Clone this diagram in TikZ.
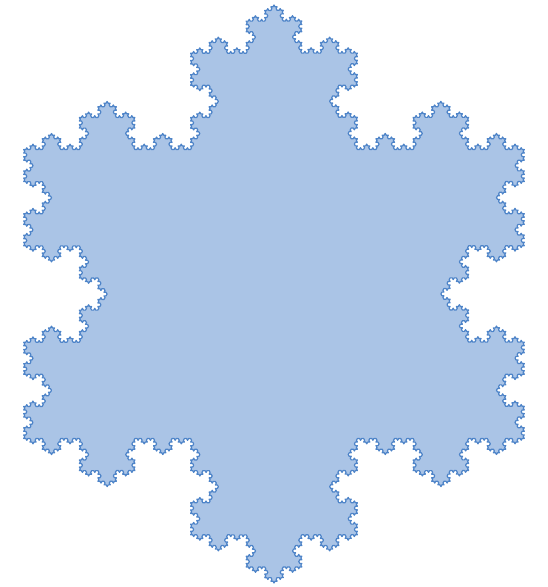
\documentclass[tikz,border=0pt]{standalone}
\usepackage{xcolor}
\usetikzlibrary{decorations.fractals}

\definecolor{flakefill}{RGB}{170,196,230}
\definecolor{flakeedge}{RGB}{78,132,200}

\begin{document}
\begin{tikzpicture}[
    decoration=Koch snowflake,
    flake/.style={fill=flakefill, draw=flakeedge, line width=1.2pt, line join=round}
]

% page frame
\useasboundingbox (0pt,0pt) rectangle (547pt,587pt);

% corners of the starting triangle
\coordinate (top) at (274pt,582pt);
\coordinate (right) at (524.3pt,148.5pt);
\coordinate (left) at (23.7pt,148.5pt);

% snowflake, five rounds
\filldraw[flake] decorate{decorate{decorate{decorate{decorate{
  (top) -- (right) -- (left) -- (top)}}}}} -- cycle;

\end{tikzpicture}
\end{document}
